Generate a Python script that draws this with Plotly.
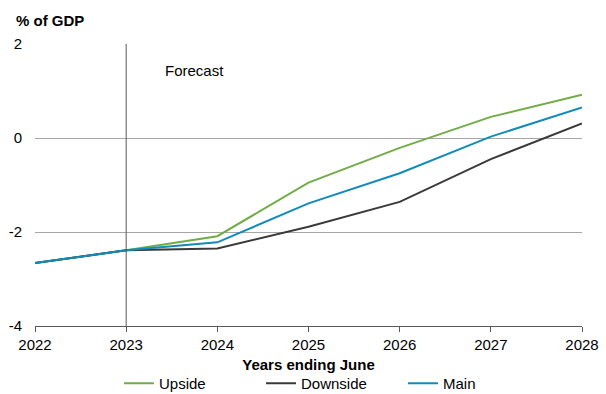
import plotly.graph_objects as go

years = [2022, 2023, 2024, 2025, 2026, 2027, 2028]
upside = [-2.66, -2.39, -2.09, -0.95, -0.21, 0.45, 0.92]
downside = [-2.66, -2.39, -2.35, -1.89, -1.36, -0.45, 0.31]
main = [-2.66, -2.39, -2.22, -1.39, -0.75, 0.03, 0.65]

series = [
    ("Upside", upside, "#70AD47"),
    ("Downside", downside, "#3A3A3A"),
    ("Main", main, "#128BB8"),
]

font_family = "Liberation Sans, Arial, sans-serif"
fs = 15

fig = go.Figure()
for name, vals, color in series:
    fig.add_trace(go.Scatter(
        x=years, y=vals, name=name, mode="lines",
        line=dict(color=color, width=2),
    ))

# forecast divider at the last actual year
fig.add_shape(type="line", xref="x", yref="paper", x0=2023, x1=2023, y0=0, y1=1,
              line=dict(color="#595959", width=1))

fig.add_annotation(text="Forecast", xref="x", yref="y", x=2023.4, y=1.43,
                   xanchor="left", yanchor="middle", showarrow=False,
                   font=dict(size=fs, color="#000000", family=font_family))

fig.add_annotation(text="<b>% of GDP</b>", xref="paper", yref="paper",
                   x=-21/547, y=1 + 24/282, xanchor="left", yanchor="middle",
                   showarrow=False,
                   font=dict(size=fs, color="#000000", family=font_family))

fig.update_layout(
    width=606, height=394,
    margin=dict(l=35, r=24, t=44, b=68, autoexpand=False),
    paper_bgcolor="white", plot_bgcolor="white",
    font=dict(family=font_family, size=fs, color="#000000"),
    showlegend=True,
    legend=dict(orientation="h", x=84/547, y=-41/282,
                xanchor="left", yanchor="top",
                entrywidth=97, entrywidthmode="pixels",
                itemwidth=30, font=dict(size=fs), traceorder="normal"),
    xaxis=dict(
        range=[2022, 2028], tickmode="array", tickvals=years,
        ticktext=[str(y) for y in years],
        showgrid=False, zeroline=False,
        showline=True, linecolor="#595959", linewidth=1,
        ticks="outside", ticklen=5, tickcolor="#595959",
        title=dict(text="<b>Years ending June</b>", standoff=7,
                   font=dict(size=fs)),
    ),
    yaxis=dict(
        range=[-4, 2], tickmode="array", tickvals=[-4, -2, 0, 2],
        ticktext=["-4", "-2", "0", "2"],
        showgrid=True, gridcolor="#A6A6A6", gridwidth=1,
        zeroline=False, showline=False, ticks="",
        ticklabelstandoff=12,
    ),
)

fig.write_html("out.html")
